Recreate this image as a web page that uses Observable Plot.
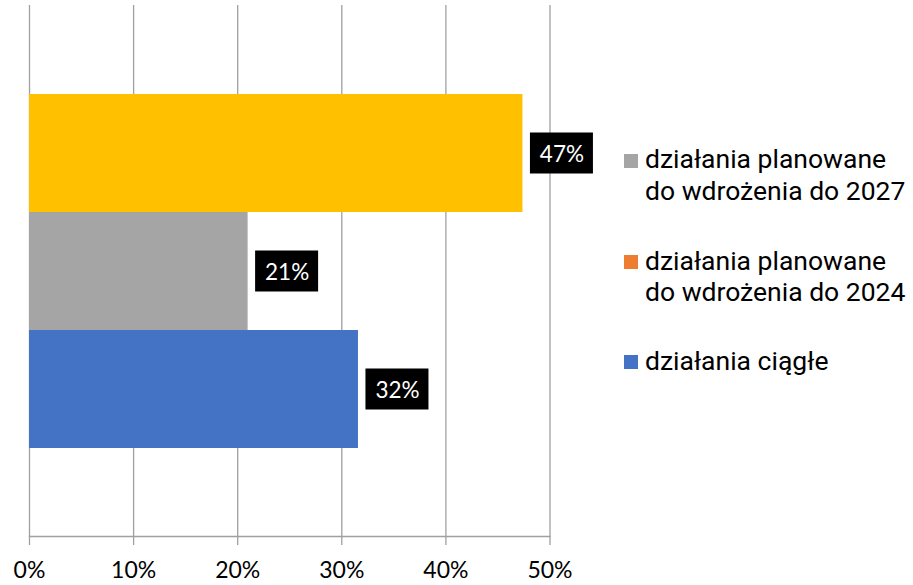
<!DOCTYPE html>
<html>
<head>
<meta charset="utf-8">
<script src="https://cdn.jsdelivr.net/npm/d3@7"></script>
<script src="https://cdn.jsdelivr.net/npm/@observablehq/plot@0.6"></script>
<style>
  body { margin: 0; background: #fff; }
  #wrap { position: relative; width: 913px; height: 585px; overflow: hidden; }
  #legend { position: absolute; left: 0; top: 0; font-family: Roboto, sans-serif; font-size: 26.5px; color: #000; }
  .item { position: absolute; left: 624px; width: 289px; line-height: 31.6px; white-space: nowrap; }
  .sw { position: absolute; left: 0; width: 14px; height: 14px; }
  .lbl { position: absolute; left: 21px; }
</style>
</head>
<body>
<div id="wrap"></div>
<script>
// Bars, top to bottom
const barSeries = ["do 2024", "do 2027", "ciągłe"];
const barValues = [47.4, 21.0, 31.6];
const barColors = ["#FFC000", "#A5A5A5", "#4472C4"];

// Axis ticks
const xTicks = [0, 10, 20, 30, 40, 50];

// Legend (as shown in the reference)
const legendLines = [
  ["działania planowane", "do wdrożenia do 2027"],
  ["działania planowane", "do wdrożenia do 2024"],
  ["działania ciągłe"]
];
const legendColors = ["#A5A5A5", "#ED7D31", "#4472C4"];

const data = barSeries.map((s, i) => ({series: s, value: barValues[i]}));

const chart = Plot.plot({
  width: 913,
  height: 585,
  marginLeft: 29,
  marginRight: 363.5,
  marginTop: 5,
  marginBottom: 49,
  style: {fontFamily: "Lato, sans-serif", fontSize: "23px", color: "#000", background: "#fff"},
  x: {domain: [0, 50], ticks: xTicks, tickFormat: d => d + "%", tickSize: 9, tickPadding: 16, label: null},
  y: {domain: barSeries, padding: 0, insetTop: 88.7, insetBottom: 88.3, axis: null},
  color: {domain: barSeries, range: barColors},
  marks: [
    Plot.ruleX(xTicks, {stroke: "#a0a0a0", strokeWidth: 1.3}),
    Plot.frame({anchor: "bottom", stroke: "#a0a0a0", strokeWidth: 1.3}),
    Plot.barX(data, {x: "value", y: "series", fill: "series"}),
    Plot.barX(data, {x1: "value", x2: "value", y: "series", fill: "black",
      insetLeft: 7.5, insetRight: -70.5, insetTop: 38.5, insetBottom: 38.5, ariaLabel: "label-box"}),
    Plot.text(data, {x: "value", y: "series", text: d => Math.round(d.value) + "%",
      dx: 39, dy: 1, fill: "white", fontSize: 22.5, fontFamily: "Lato, sans-serif"})
  ]
});

d3.select(chart).selectAll('g[aria-label="x-axis tick"]')
  .attr("stroke", "#a0a0a0").attr("stroke-width", 1.3);
d3.select(chart).selectAll('g[aria-label="label-box"]')
  .style("filter", "drop-shadow(3px 3px 3px rgba(0,0,0,0.45))");

const wrap = document.getElementById("wrap");
wrap.appendChild(chart);

const legend = document.createElement("div");
legend.id = "legend";
const tops = [143, 244.6, 344.6];
legendLines.forEach((lines, i) => {
  const item = document.createElement("div");
  item.className = "item";
  item.style.top = tops[i] + "px";
  const sw = document.createElement("div");
  sw.className = "sw";
  sw.style.background = legendColors[i];
  sw.style.top = "10.7px";
  item.appendChild(sw);
  const lbl = document.createElement("div");
  lbl.className = "lbl";
  lbl.innerHTML = lines.join("<br>");
  item.appendChild(lbl);
  legend.appendChild(item);
});
wrap.appendChild(legend);
</script>
</body>
</html>
